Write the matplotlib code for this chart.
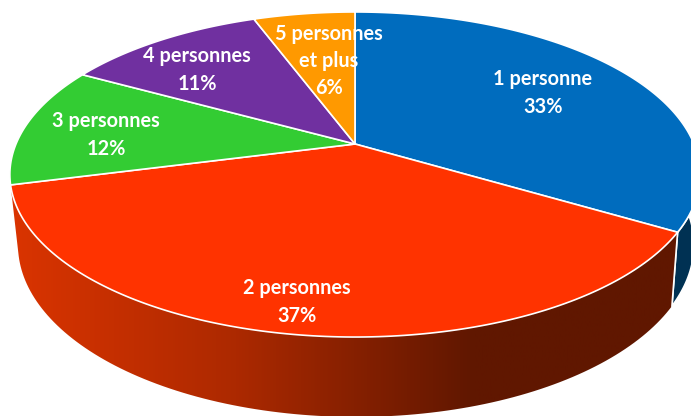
import numpy as np
import matplotlib
matplotlib.use('Agg')
import matplotlib.pyplot as plt
from matplotlib.colors import LinearSegmentedColormap
from matplotlib.patches import Polygon

labels = ['1 personne\n33%', '2 personnes\n37%', '3 personnes\n12%', '4 personnes\n11%', '5 personnes\net plus\n6%']
values = [33.5, 37.5, 12.0, 11.3, 5.7]
colors = ['#006CBE', '#FF3300', '#33CC33', '#7030A0', '#FF9900']

# label centres in pixels
label_x = [543, 297, 106, 197, 329]
label_y = [93, 302, 135, 70, 61]

# perspective of the top face and of the bottom rim
top_rim = dict(x0=355, y0=144, a=339, b=156.8, k=0.1877)
low_rim = dict(x0=356, y0=212.7, a=332, b=165.9, k=0.1877)


def rim(theta, x0, y0, a, b, k):
    w = 1 + k * np.cos(theta)
    return x0 + a * np.sin(theta) / w, y0 - b * np.cos(theta) / w


def side_polygon(start, end):
    t = np.linspace(start, end, 120)
    x1, y1 = rim(t, **top_rim)
    x2, y2 = rim(t[::-1], **low_rim)
    return np.column_stack([np.r_[x1, x2], np.r_[y1, y2]])


fig = plt.figure(figsize=(6.91, 4.16), dpi=100)
ax = fig.add_axes([0, 0, 1, 1])
ax.set_xlim(0, 691)
ax.set_ylim(416, 0)
ax.axis('off')

edges = np.r_[0, np.cumsum(values)] / np.sum(values) * 2 * np.pi

# side of the blue slice, only the part right of the red one shows
blue_side = Polygon(side_polygon(np.pi / 2, edges[1]), closed=True, fc='#003153', ec='white', lw=1.2, zorder=1)
ax.add_patch(blue_side)

# side of the red slice, gradient clipped by the polygon
red_side = Polygon(side_polygon(edges[1], edges[2]), closed=True, fc='none', ec='none', zorder=2)
ax.add_patch(red_side)
shade = LinearSegmentedColormap.from_list('shade', [(0, '#DA3400'), (0.33, '#AC2900'), (0.68, '#601700'), (1, '#601700')])
grad = ax.imshow(np.linspace(0, 1, 256).reshape(1, -1), cmap=shade, extent=[11, 691, 416, 0], aspect='auto', zorder=2)
grad.set_clip_path(red_side)
ax.set_xlim(0, 691)
ax.set_ylim(416, 0)

# white line between the two visible sides
t = edges[1]
ax.plot([rim(t, **top_rim)[0], rim(t, **low_rim)[0]], [rim(t, **top_rim)[1], rim(t, **low_rim)[1]], color='white', lw=1.2, zorder=3)

# top face
for i in range(len(values)):
    t = np.linspace(edges[i], edges[i + 1], 150)
    x, y = rim(t, **top_rim)
    xs = np.r_[top_rim['x0'], x]
    ys = np.r_[top_rim['y0'], y]
    ax.add_patch(Polygon(np.column_stack([xs, ys]), closed=True, fc=colors[i], ec='white', lw=1.2, joinstyle='round', zorder=4))

for i in range(len(labels)):
    ax.text(label_x[i], label_y[i], labels[i], color='white', ha='center', va='center',
            family='Lato', weight='bold', fontsize=14.3, linespacing=1.44, zorder=5)

fig.savefig('out.png', dpi=100)
